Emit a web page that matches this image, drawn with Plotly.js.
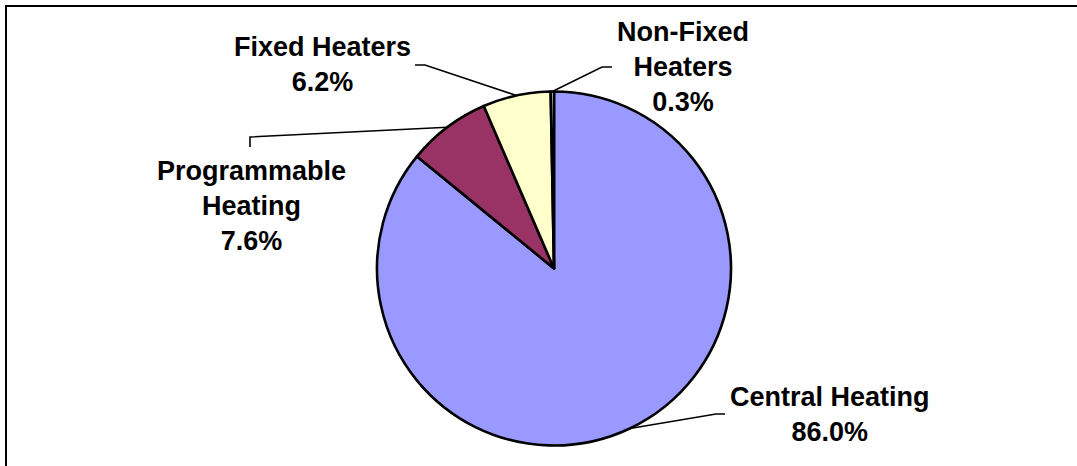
<!DOCTYPE html>
<html>
<head>
<meta charset="utf-8">
<script src="https://cdn.plot.ly/plotly-3.0.1.min.js"></script>
<style>
html,body{margin:0;padding:0;background:#fff;}
#chart{width:1077px;height:466px;}
</style>
</head>
<body>
<div id="chart"></div>
<script>
// ---- data ----
var categories = ['Central Heating', 'Programmable Heating', 'Fixed Heaters', 'Non-Fixed Heaters'];
var displayNames = ['Central Heating', 'Programmable<br>Heating', 'Fixed Heaters', 'Non-Fixed<br>Heaters'];
var shares = [86.0, 7.6, 6.2, 0.3];
var sliceColors = ['#9999FF', '#993366', '#FFFFCC', '#CCFFFF'];

// ---- layout geometry (pixels) ----
var W = 1077, H = 466;
var cx = 554, cy = 268.5, R = 177;
// label block centres and leader-line elbows/ends (pixels)
var labelPos = [[830, 414], [251, 206], [322, 64], [683, 67]];
var elbows = [[[716, 414], [725, 414]], [[250, 137], [250, 147]], [[425, 65], [415, 65]], [[602, 67], [612, 67]]];

function px2x(p){ return p / W; }
function px2y(p){ return 1 - p / H; }

var trace = {
  type: 'pie',
  labels: categories,
  values: shares,
  sort: false,
  direction: 'clockwise',
  rotation: 0,
  textinfo: 'none',
  hoverinfo: 'skip',
  showlegend: false,
  marker: { colors: sliceColors, line: { color: '#000', width: 2.6 } },
  domain: { x: [px2x(cx - R), px2x(cx + R)], y: [px2y(cy + R), px2y(cy - R)] }
};

var total = shares.reduce(function(a, b){ return a + b; }, 0);
var annotations = [], shapes = [];
var cum = 0;
for (var i = 0; i < shares.length; i++) {
  var mid = (cum + shares[i] / 2) / total * 2 * Math.PI;
  cum += shares[i];
  var ax = cx + R * Math.sin(mid), ay = cy - R * Math.cos(mid);
  var path = 'M' + px2x(ax) + ',' + px2y(ay);
  elbows[i].forEach(function(pt){ path += ' L' + px2x(pt[0]) + ',' + px2y(pt[1]); });
  shapes.push({ type: 'path', xref: 'paper', yref: 'paper', path: path,
    line: { color: '#000', width: 1.6 } });
  annotations.push({
    xref: 'paper', yref: 'paper', x: px2x(labelPos[i][0]), y: px2y(labelPos[i][1]),
    xanchor: 'center', yanchor: 'middle', showarrow: false, align: 'center',
    text: '<b>' + displayNames[i] + '<br>' + shares[i].toFixed(1) + '%</b>',
    font: { family: 'Liberation Sans, Arial, sans-serif', size: 27, color: '#000' }
  });
}
// outer frame
shapes.push({ type: 'rect', xref: 'paper', yref: 'paper',
  x0: px2x(6), x1: px2x(W + 10), y0: px2y(H + 10), y1: px2y(6),
  line: { color: '#000', width: 2 }, fillcolor: 'rgba(0,0,0,0)' });

var layout = {
  width: W, height: H,
  margin: { l: 0, r: 0, t: 0, b: 0 },
  paper_bgcolor: '#fff', plot_bgcolor: '#fff',
  shapes: shapes,
  annotations: annotations
};
Plotly.newPlot('chart', [trace], layout, { displayModeBar: false, staticPlot: true });
</script>
</body>
</html>
